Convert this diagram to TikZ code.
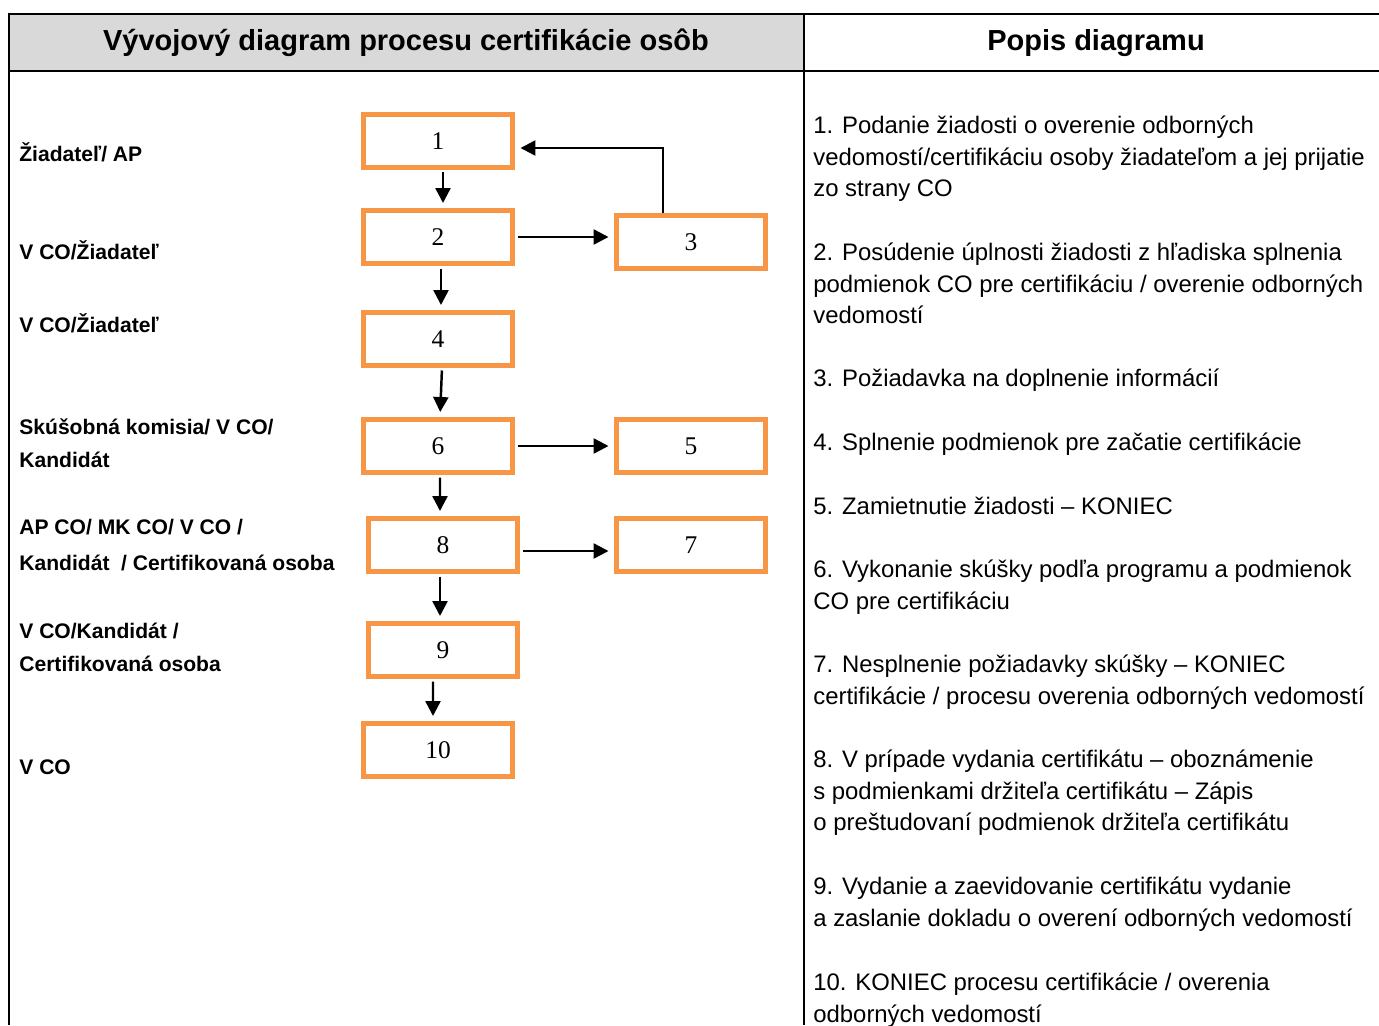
\documentclass[tikz,border=0pt]{standalone}
\usepackage{fontspec}
\setmainfont{Liberation Sans}
\newfontfamily\numfont{Liberation Serif}
\usetikzlibrary{arrows.meta,positioning}
\definecolor{boxorange}{HTML}{F79646}
\definecolor{headgray}{HTML}{D9D9D9}
\tikzset{
  stepbox/.style={draw=boxorange, line width=0.1cm, minimum width=3cm,
    minimum height=1.06cm, inner sep=0pt, font=\numfont\fontsize{14.5}{16}\selectfont},
  role/.style={anchor=west, inner sep=0pt, align=left,
    font=\bfseries\fontsize{12}{19}\selectfont},
  desc/.style={anchor=north west, inner sep=0pt, align=left,
    font=\fontsize{13.6}{18}\selectfont},
  head/.style={inner sep=0pt, font=\bfseries\fontsize{16.5}{20}\selectfont},
  flow/.style={-{Triangle[length=0.3cm,width=0.3cm]}, line width=1.4pt,
    shorten <=0.05cm, shorten >=0.1cm},
  rule/.style={line width=1.2pt}
}
\begin{document}
\begin{tikzpicture}[x=0.02cm,y=-0.02cm]
  \useasboundingbox (0,0) rectangle (1379,1025);
  % table
  \fill[headgray] (9,14) rectangle (804,71);
  \draw[rule] (9,1025) -- (9,14) -- (1379,14);
  \draw[rule] (9,71) -- (1379,71);
  \draw[rule] (804,14) -- (804,1025);
  \node[head] (headleft) at (406,43) {Vývojový diagram procesu certifikácie osôb};
  \node[head] (headright) at (1096,43) {Popis diagramu};

  % roles
  \node[role] (r1) at (19,152) {Žiadateľ/ AP};
  \node[role] (r2) at (19,250) {V CO/Žiadateľ};
  \node[role] (r4) at (19,323) {V CO/Žiadateľ};
  \node[role] (r6) at (19,443.5) {Skúšobná komisia/ V CO/\\Kandidát};
  \node[role] (r8) at (19,545) {AP CO/ MK CO/ V CO /\\[1.4pt]Kandidát~ / Certifikovaná osoba};
  \node[role] (r9) at (19,647.5) {V CO/Kandidát /\\Certifikovaná osoba};
  \node[role] (r10) at (19,767) {V CO};

  % steps
  \node[stepbox] (b1) at (438,141) {1};
  \node[stepbox] (b2) at (438,237) {2};
  \node[stepbox] (b3) at (691,242) {3};
  \node[stepbox] (b4) at (438,339) {4};
  \node[stepbox] (b6) at (438,446) {6};
  \node[stepbox] (b5) at (691,446) {5};
  \node[stepbox] (b8) at (443,545) {8};
  \node[stepbox] (b7) at (691,545) {7};
  \node[stepbox] (b9) at (443,650) {9};
  \node[stepbox] (b10) at (438,750) {10};

  % connectors
  \draw[flow] ([xshift=0.1cm]b1.south) -- ([xshift=0.1cm]b2.north);
  \draw[flow] ([xshift=0.06cm]b2.south) -- ([xshift=0.06cm]b4.north);
  \draw[flow] ([xshift=0.08cm]b4.south) -- ([xshift=0.04cm]b6.north);
  \draw[flow] ([xshift=0.04cm]b6.south) -- ([xshift=-0.06cm]b8.north);
  \draw[flow] ([xshift=-0.06cm]b8.south) -- ([xshift=-0.06cm]b9.north);
  \draw[flow] ([xshift=-0.2cm]b9.south) -- ([xshift=-0.1cm]b10.north);
  \draw[flow] (b2.east) -- (b3.west |- b2.east);
  \draw[flow, shorten <=0pt] ([xshift=-0.56cm]b3.north) |- ([yshift=-0.14cm]b1.east);
  \draw[flow] (b6.east) -- (b5.west);
  \draw[flow] ([yshift=-0.12cm]b8.east) -- ([yshift=-0.12cm]b7.west);

  % descriptions
  \node[desc] (d1) at (813,111) {\strut 1. Podanie žiadosti o overenie odborných\\vedomostí/certifikáciu osoby žiadateľom a jej prijatie\\zo strany CO};
  \node[desc] (d2) at (813,238) {\strut 2. Posúdenie úplnosti žiadosti z hľadiska splnenia\\podmienok CO pre certifikáciu / overenie odborných\\vedomostí};
  \node[desc] (d3) at (813,364) {\strut 3. Požiadavka na doplnenie informácií};
  \node[desc] (d4) at (813,428) {\strut 4. Splnenie podmienok pre začatie certifikácie};
  \node[desc] (d5) at (813,492) {\strut 5. Zamietnutie žiadosti -- KONIEC};
  \node[desc] (d6) at (813,555) {\strut 6. Vykonanie skúšky podľa programu a podmienok\\CO pre certifikáciu};
  \node[desc] (d7) at (813,650) {\strut 7. Nesplnenie požiadavky skúšky -- KONIEC\\certifikácie / procesu overenia odborných vedomostí};
  \node[desc] (d8) at (813,745) {\strut 8. V prípade vydania certifikátu -- oboznámenie\\s podmienkami držiteľa certifikátu -- Zápis\\o preštudovaní podmienok držiteľa certifikátu};
  \node[desc] (d9) at (813,872) {\strut 9. Vydanie a zaevidovanie certifikátu vydanie\\a zaslanie dokladu o overení odborných vedomostí};
  \node[desc] (d10) at (813,968) {\strut 10. KONIEC procesu certifikácie / overenia\\odborných vedomostí};
\end{tikzpicture}
\end{document}
